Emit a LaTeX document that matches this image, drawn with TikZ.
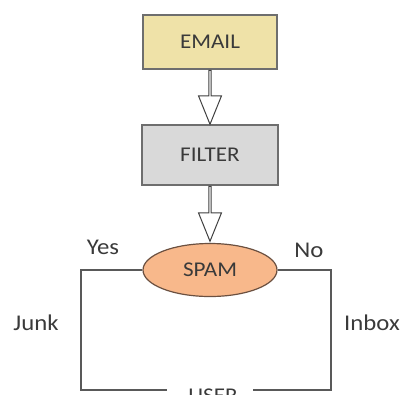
\documentclass[tikz,border=0pt]{standalone}
\usepackage{fontspec}
\setmainfont{Carlito}[FakeStretch=1.1]
\usetikzlibrary{shapes.geometric,shapes.arrows}
\definecolor{emailfill}{HTML}{EFE2A8}
\definecolor{filterfill}{HTML}{D9D9D9}
\definecolor{spamfill}{HTML}{F8B88B}
\definecolor{spamline}{HTML}{6B5040}
\definecolor{boxline}{HTML}{6E6E6E}
\definecolor{linkline}{HTML}{595959}
\definecolor{labeltext}{HTML}{3A3A3A}
\begin{document}
\begin{tikzpicture}
        [
        x = 1pt, y = -1pt,
        every node/.style = {text=labeltext, font=\fontsize{21}{24}\selectfont},
        ]
        \tikzstyle{step box}=[rectangle,draw=boxline,line width=1.2pt,inner sep=0]
        \tikzstyle{spam node}=[ellipse,draw=spamline,fill=spamfill,line width=1.2pt,
            minimum width=134,minimum height=53,inner sep=0]
        \tikzstyle{hollow arrow}=[single arrow,draw=black!75,fill=white,line width=1pt,
            shape border rotate=270,inner sep=0,minimum width=23,
            single arrow head extend=5,single arrow tip angle=44]
        \tikzstyle{link}=[draw=linkline,line width=1.5pt]
        \tikzstyle{side label}=[font=\fontsize{22.5}{26}\selectfont]

        \useasboundingbox (0,0) rectangle (403,394);

        \node[step box,fill=emailfill,minimum width=134,minimum height=54] (email) at (210,42) {EMAIL};
        \node[step box,fill=filterfill,minimum width=136,minimum height=60] (filter) at (210,155) {FILTER};
        \node[spam node] (spam) at (210,270) {SPAM};
        \node (user) at (213,396) {USER};

        % hollow arrows between the steps
        \node[hollow arrow,minimum height=54] at (210,96) {};
        \node[hollow arrow,minimum height=55] at (210,212.5) {};

        % branches down to the user
        \coordinate (junk corner) at (81,390);
        \coordinate (junk end) at (167,390);
        \coordinate (inbox corner) at (331,390);
        \coordinate (inbox end) at (253,390);
        \draw[link] (spam.west) -| (junk corner) -- (junk end);
        \draw[link] (spam.east) -| (inbox corner) -- (inbox end);

        \node[side label] (yes) at (103,247) {Yes};
        \node[side label] (no) at (309,250) {No};
        \node[side label] (junk) at (36,323) {Junk};
        \node[side label] (inbox) at (372,323) {Inbox};
    \end{tikzpicture}
\end{document}
